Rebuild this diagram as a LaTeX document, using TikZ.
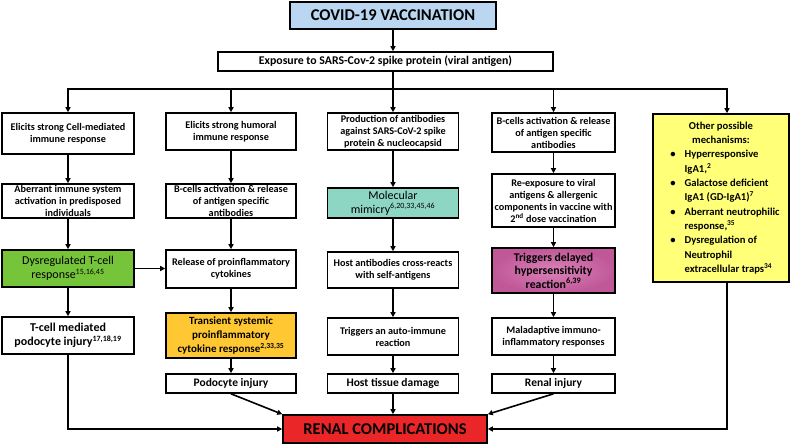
\documentclass[tikz,border=0pt]{standalone}
\usepackage{fontspec}
\setmainfont{Carlito}
\usetikzlibrary{arrows.meta}
\definecolor{topblue}{RGB}{186,214,240}
\definecolor{tgreen}{RGB}{118,196,58}
\definecolor{tteal}{RGB}{142,214,196}
\definecolor{torange}{RGB}{255,200,50}
\definecolor{tpinkin}{RGB}{218,130,184}
\definecolor{tpinkout}{RGB}{192,88,152}
\definecolor{tyellow}{RGB}{255,255,120}
\definecolor{tred}{RGB}{235,38,40}
\tikzset{
  box/.style={draw, line width=1.6pt, fill=white, align=center, inner sep=1pt,
    font=\bfseries\fontsize{10.2}{12}\selectfont},
  cbox/.style={box, font=\fontsize{12}{14}\selectfont},
  arr/.style={line width=1.6pt, -{Triangle[length=5pt,width=5pt]}},
  ln/.style={line width=1.6pt}
}
\begin{document}
\begin{tikzpicture}[x=1pt,y=-1pt]
\useasboundingbox (0,0) rectangle (790,445);
% top
\node[box, fill=topblue, minimum width=206pt, minimum height=27pt,
  font=\bfseries\fontsize{16.5}{18}\selectfont] (top) at (393,15.5) {COVID-19 VACCINATION};
\node[box, minimum width=335pt, minimum height=19pt, font=\bfseries\fontsize{11.8}{13}\selectfont] (exp) at (385.5,61.5)
  {Exposure to SARS-Cov-2 spike protein (viral antigen)};
\coordinate (bus) at (393,89);
% row 1
\node[box, minimum width=132pt, minimum height=41pt] (a1) at (68,133.5)
  {Elicits strong Cell-mediated\\immune response};
\node[box, minimum width=130pt, minimum height=37pt] (a2) at (231,131.5)
  {Elicits strong humoral\\immune response};
\node[box, minimum width=131pt, minimum height=37pt] (a3) at (393,131.5)
  {Production of antibodies\\against SARS-CoV-2 spike\\protein \& nucleocapsid};
\node[box, minimum width=123pt, minimum height=39pt] (a4) at (553.5,132.5)
  {B-cells activation \& release\\of antigen specific\\antibodies};
% other mechanisms
\node[box, fill=tyellow, minimum width=136pt, minimum height=168pt,
  font=\bfseries\fontsize{10.6}{14.3}\selectfont] (oth) at (721,198) {%
  \begin{tabular}{@{\hspace{8pt}}c@{\hspace{9pt}}l@{}}
  \multicolumn{2}{c}{Other possible}\\
  \multicolumn{2}{c}{mechanisms:}\\
  \textbullet & Hyperresponsive\\
  & IgA1,\textsuperscript{2}\\
  \textbullet & Galactose deficient\\
  & IgA1 (GD-IgA1)\textsuperscript{7}\\
  \textbullet & Aberrant neutrophilic\\
  & response,\textsuperscript{35}\\
  \textbullet & Dysregulation of\\
  & Neutrophil\\
  & extracellular traps\textsuperscript{34}
  \end{tabular}};
% row 2
\node[box, minimum width=132pt, minimum height=34pt] (b1) at (68,201)
  {Aberrant immune system\\activation in predisposed\\individuals};
\node[box, minimum width=130pt, minimum height=34pt] (b2) at (231,201)
  {B-cells activation \& release\\of antigen specific\\antibodies};
\node[cbox, fill=tteal, minimum width=131pt, minimum height=30pt] (b3) at (393,203)
  {Molecular\\mimicry\textsuperscript{6,20,33,45,46}};
\node[box, minimum width=123pt, minimum height=53pt] (b4) at (553.5,200.5)
  {Re-exposure to viral\\antigens \& allergenic\\components in vaccine with\\2\textsuperscript{nd} dose vaccination};
% row 3
\node[cbox, fill=tgreen, minimum width=132pt, minimum height=37pt] (c1) at (68,268.5)
  {Dysregulated T-cell\\response\textsuperscript{15,16,45}};
\node[box, minimum width=130pt, minimum height=38pt] (c2) at (231,269)
  {Release of proinflammatory\\cytokines};
\node[box, minimum width=131pt, minimum height=36pt] (c3) at (393,270)
  {Host antibodies cross-reacts\\with self-antigens};
\node[box, inner color=tpinkin, outer color=tpinkout, minimum width=123pt, minimum height=45pt,
  font=\bfseries\fontsize{11.8}{13.6}\selectfont] (c4) at (553.5,270.5)
  {Triggers delayed\\hypersensitivity\\reaction\textsuperscript{6,39}};
% row 4
\node[box, minimum width=132pt, minimum height=37pt, font=\bfseries\fontsize{12}{14}\selectfont] (d1) at (68,335.5)
  {T-cell mediated\\podocyte injury\textsuperscript{17,18,19}};
\node[box, fill=torange, minimum width=130pt, minimum height=45pt, font=\bfseries\fontsize{11}{14.3}\selectfont] (d2) at (231,335.5)
  {Transient systemic\\proinflammatory\\cytokine response\textsuperscript{2,33,35}};
\node[box, minimum width=131pt, minimum height=37pt] (d3) at (393,336.5)
  {Triggers an auto-immune\\reaction};
\node[box, minimum width=123pt, minimum height=37pt] (d4) at (553.5,336.5)
  {Maladaptive immuno-\\inflammatory responses};
% row 5
\node[box, minimum width=130pt, minimum height=19pt, font=\bfseries\fontsize{11.5}{13}\selectfont] (e2) at (231,383.5) {Podocyte injury};
\node[box, minimum width=131pt, minimum height=19pt, font=\bfseries\fontsize{11.5}{13}\selectfont] (e3) at (393,383.5) {Host tissue damage};
\node[box, minimum width=123pt, minimum height=19pt, font=\bfseries\fontsize{11.5}{13}\selectfont] (e4) at (553.5,383.5) {Renal injury};
% renal
\node[box, fill=tred, minimum width=204pt, minimum height=28pt,
  font=\bfseries\fontsize{16.5}{18}\selectfont] (ren) at (385,429) {RENAL COMPLICATIONS};
% connectors
\draw[arr] (top) -- (top |- exp.north);
\draw[ln] (exp.south -| bus) -- (bus);
\draw[arr] (bus) -| (a1.north);
\draw[arr] (bus) -| (a2.north);
\draw[arr] (bus) -- (a3.north);
\draw[arr] (bus) -| (a4.north);
\draw[arr] (bus) -| ([xshift=6pt]oth.north);
\draw[arr] (a1) -- (b1);
\draw[arr] (b1) -- (c1);
\draw[arr] (c1) -- (d1);
\draw[arr] (a2) -- (b2);
\draw[arr] (b2) -- (c2);
\draw[arr] (c2) -- (d2);
\draw[arr] (d2) -- (e2);
\draw[arr] (a3) -- (b3);
\draw[arr] (b3) -- (c3);
\draw[arr] (c3) -- (d3);
\draw[arr] (d3) -- (e3);
\draw[arr] (a4) -- (b4);
\draw[arr] (b4) -- (c4);
\draw[arr] (c4) -- (d4);
\draw[arr] (d4) -- (e4);
\draw[arr] (c1.east) -- (c1.east -| c2.west);
\draw[arr] (d1.south) |- (ren.west);
\draw[arr] (e2.south) -- (ren.north west);
\draw[arr] (e3.south) -- (e3.south |- ren.north);
\draw[arr] (e4.south) -- (ren.north east);
\draw[arr] ([xshift=6pt]oth.south) |- (ren.east);
\end{tikzpicture}
\end{document}
